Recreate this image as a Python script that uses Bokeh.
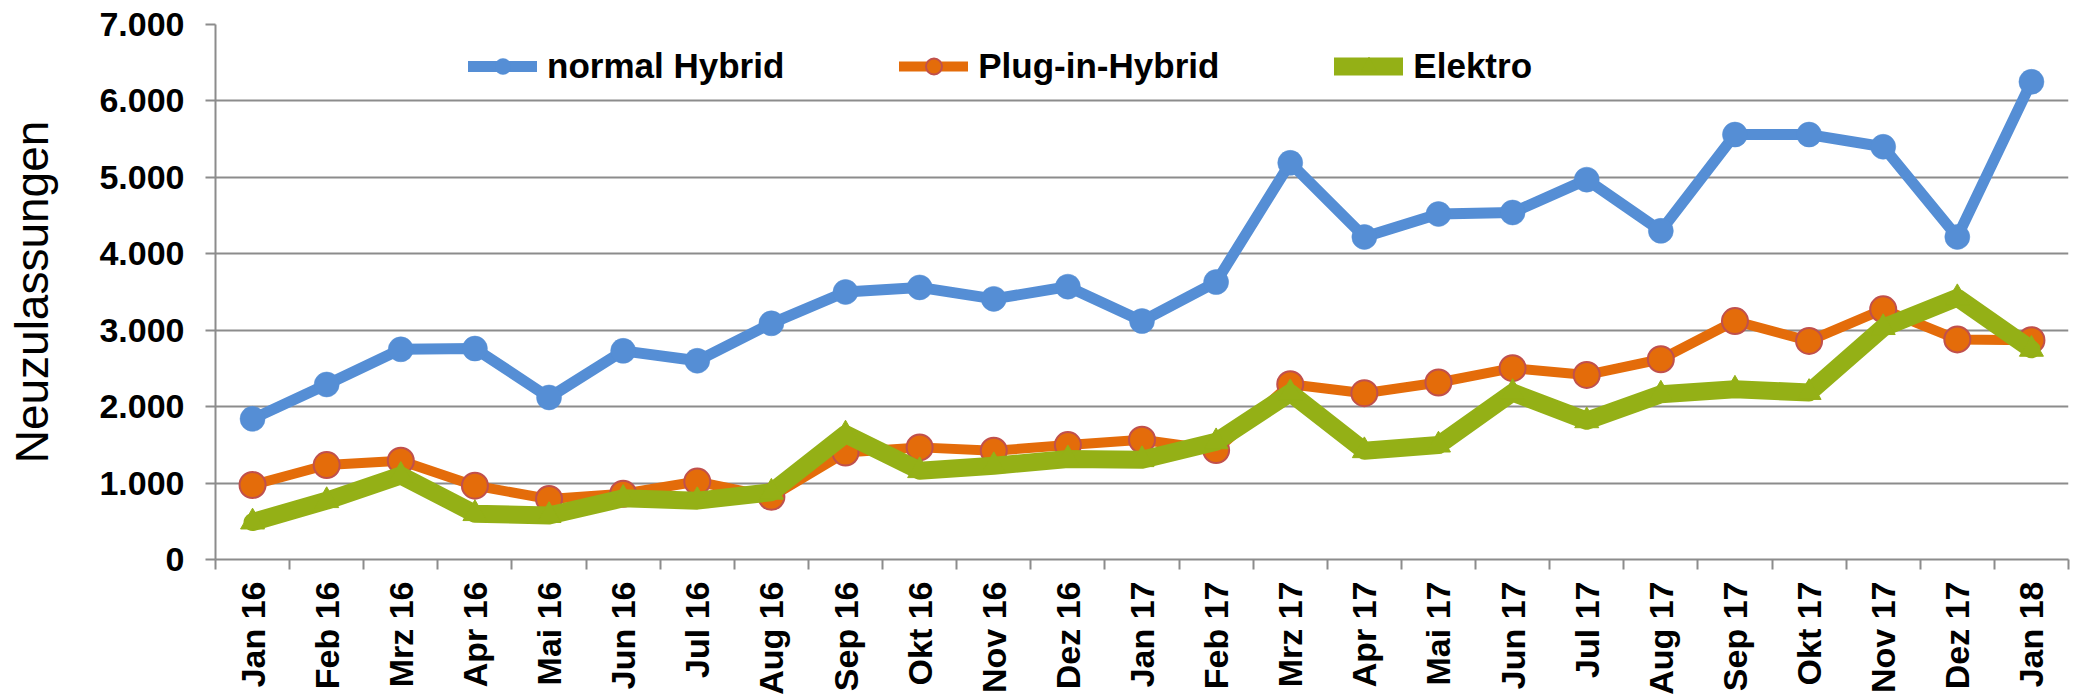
from bokeh.plotting import figure
from bokeh.models import (Range1d, FixedTicker, Legend, LegendItem, ColumnDataSource)
from bokeh.embed import file_html
from bokeh.resources import INLINE
import math

months = ["Jan 16", "Feb 16", "Mrz 16", "Apr 16", "Mai 16", "Jun 16", "Jul 16", "Aug 16",
          "Sep 16", "Okt 16", "Nov 16", "Dez 16", "Jan 17", "Feb 17", "Mrz 17", "Apr 17",
          "Mai 17", "Jun 17", "Jul 17", "Aug 17", "Sep 17", "Okt 17", "Nov 17", "Dez 17", "Jan 18"]
normal_hybrid = [1840, 2290, 2750, 2760, 2120, 2730, 2600, 3090, 3500, 3560, 3410, 3570, 3120,
                 3630, 5190, 4220, 4520, 4540, 4970, 4300, 5560, 5560, 5400, 4220, 6250]
plug_in_hybrid = [975, 1236, 1293, 966, 792, 860, 1020, 820, 1400, 1467, 1423, 1497, 1567,
                  1432, 2294, 2176, 2316, 2503, 2415, 2620, 3120, 2860, 3273, 2880, 2870]
elektro = [490, 770, 1100, 600, 575, 800, 770, 880, 1641, 1162, 1227, 1315, 1306,
           1540, 2180, 1423, 1497, 2185, 1815, 2163, 2228, 2185, 3034, 3425, 2750]
y_ticks = [0, 1000, 2000, 3000, 4000, 5000, 6000, 7000]
y_tick_labels = ["0", "1.000", "2.000", "3.000", "4.000", "5.000", "6.000", "7.000"]
series_names = ["normal Hybrid", "Plug-in-Hybrid", "Elektro"]
y_title = "Neuzulassungen"

FONT = "Liberation Sans"
BLUE = "#558ED5"
ORANGE = "#E46C0A"
ORANGE_EDGE = "#C0504D"
GREEN = "#94B016"
GRID = "#8C8C8C"

xs = list(range(len(months)))
src = ColumnDataSource(dict(x=xs, nh=normal_hybrid, ph=plug_in_hybrid, el=elektro))

p = figure(width=2078, height=697, output_backend="svg", toolbar_location=None,
           x_range=Range1d(-0.5, len(months) - 0.5), y_range=Range1d(0, 7000),
           min_border_left=215, min_border_right=10, min_border_top=24, min_border_bottom=136)
p.outline_line_color = None
p.background_fill_color = "white"

# axes
xa = p.xaxis[0]
xa.ticker = FixedTicker(ticks=xs, minor_ticks=[i - 0.5 for i in range(len(months) + 1)])
xa.major_label_overrides = {i: m for i, m in zip(xs, months)}
xa.major_label_orientation = math.pi / 2
xa.major_tick_out = 10
xa.major_tick_in = 0
xa.major_tick_line_color = None
xa.minor_tick_out = 10
xa.minor_tick_in = 0
xa.minor_tick_line_color = GRID
xa.minor_tick_line_width = 2
xa.axis_line_color = GRID
xa.axis_line_width = 2
xa.major_label_standoff = 12
xa.major_label_text_font = FONT
xa.major_label_text_font_style = "bold"
xa.major_label_text_font_size = "34px"
xa.major_label_text_color = "black"

ya = p.yaxis[0]
ya.ticker = FixedTicker(ticks=y_ticks, minor_ticks=[])
ya.major_label_overrides = {t: l for t, l in zip(y_ticks, y_tick_labels)}
ya.major_tick_out = 10
ya.major_tick_in = 0
ya.major_tick_line_color = GRID
ya.major_tick_line_width = 2
ya.minor_tick_line_color = None
ya.axis_line_color = GRID
ya.axis_line_width = 2
ya.major_label_standoff = 21
ya.major_label_text_font = FONT
ya.major_label_text_font_style = "bold"
ya.major_label_text_font_size = "34px"
ya.major_label_text_color = "black"
ya.axis_label = y_title
ya.axis_label_text_font = FONT
ya.axis_label_text_font_style = "normal"
ya.axis_label_text_font_size = "46px"
ya.axis_label_text_color = "black"
ya.axis_label_standoff = 38

p.xgrid.grid_line_color = None
p.ygrid.ticker = FixedTicker(ticks=y_ticks)
p.ygrid.grid_line_color = GRID
p.ygrid.grid_line_width = 2

# series
l1 = p.line("x", "nh", source=src, line_color=BLUE, line_width=11, line_join="round", line_cap="round")
s1 = p.scatter("x", "nh", source=src, marker="circle", size=25, fill_color=BLUE, line_color=BLUE, line_width=0.5)
l2 = p.line("x", "ph", source=src, line_color=ORANGE, line_width=10, line_join="round", line_cap="round")
s2 = p.scatter("x", "ph", source=src, marker="circle", size=26, fill_color=ORANGE, line_color=ORANGE_EDGE, line_width=2)
l3 = p.line("x", "el", source=src, line_color=GREEN, line_width=18, line_join="round", line_cap="round")
s3 = p.scatter("x", "el", source=src, marker="triangle", size=24, fill_color=GREEN, line_color=GREEN)

legend = Legend(items=[LegendItem(label=series_names[0], renderers=[l1, s1]),
                       LegendItem(label=series_names[1], renderers=[l2, s2]),
                       LegendItem(label=series_names[2], renderers=[l3, s3])],
                orientation="horizontal", location=(253, 473),
                glyph_width=69, glyph_height=40, label_standoff=10, spacing=115,
                padding=0, margin=0, border_line_color=None, background_fill_alpha=0,
                label_text_font=FONT, label_text_font_style="bold",
                label_text_font_size="35px", label_text_color="black")
p.add_layout(legend)

open("out.html", "w").write(file_html(p, INLINE))
